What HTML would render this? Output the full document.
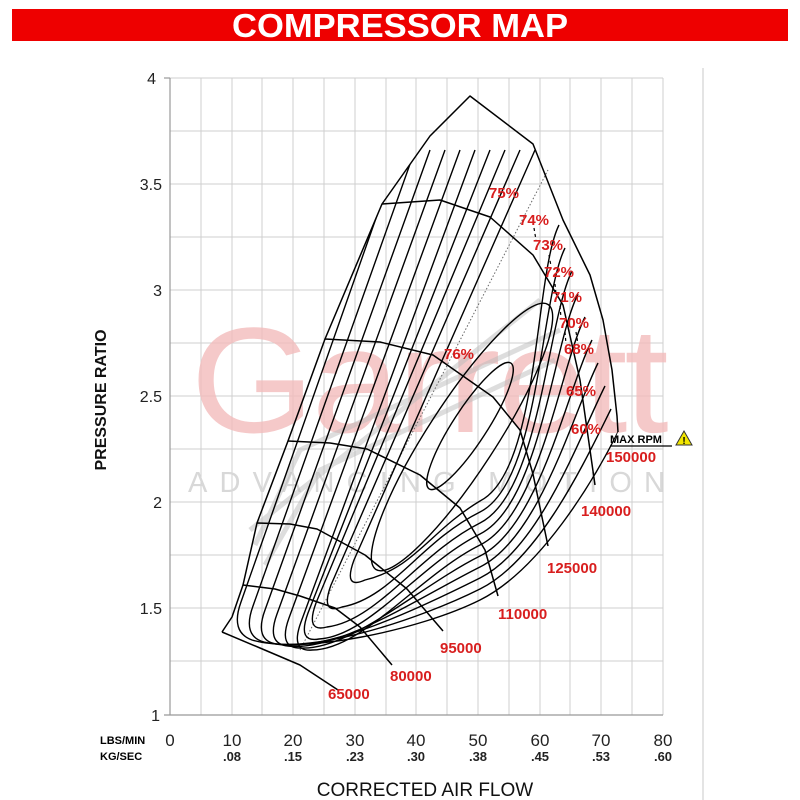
<!DOCTYPE html>
<html><head><meta charset="utf-8"><style>
html,body{margin:0;padding:0;background:#fff;width:800px;height:800px;overflow:hidden}
svg{display:block}
text{font-family:"Liberation Sans",sans-serif}
</style></head><body>
<svg width="800" height="800" viewBox="0 0 800 800" xmlns="http://www.w3.org/2000/svg">
<defs>
<clipPath id="map"><polygon points="223,631 243,585 257,523 288,441 325,339 382,204 430,136 470,96 533,144 563,220 603,320 617,416 618,432 595,485 548,546 498,596 443,631 392,665 338,690 300,672 260,652"/></clipPath>
</defs>
<rect x="12" y="9" width="776" height="32" fill="#ee0000"/>
<text x="232" y="37" font-size="33" font-weight="bold" fill="#fff" textLength="336" lengthAdjust="spacingAndGlyphs">COMPRESSOR MAP</text>
<line x1="703" y1="68" x2="703" y2="800" stroke="#e4e4e4" stroke-width="2"/>
<g stroke="#cfcfcf" stroke-width="1">
<line x1="201" y1="78" x2="201" y2="715"/><line x1="232" y1="78" x2="232" y2="715"/><line x1="262" y1="78" x2="262" y2="715"/><line x1="293" y1="78" x2="293" y2="715"/><line x1="324" y1="78" x2="324" y2="715"/><line x1="355" y1="78" x2="355" y2="715"/><line x1="386" y1="78" x2="386" y2="715"/><line x1="416" y1="78" x2="416" y2="715"/><line x1="447" y1="78" x2="447" y2="715"/><line x1="478" y1="78" x2="478" y2="715"/><line x1="509" y1="78" x2="509" y2="715"/><line x1="540" y1="78" x2="540" y2="715"/><line x1="570" y1="78" x2="570" y2="715"/><line x1="601" y1="78" x2="601" y2="715"/><line x1="632" y1="78" x2="632" y2="715"/><line x1="663" y1="78" x2="663" y2="715"/>
<line x1="170" y1="78" x2="663" y2="78"/><line x1="170" y1="131" x2="663" y2="131"/><line x1="170" y1="184" x2="663" y2="184"/><line x1="170" y1="237" x2="663" y2="237"/><line x1="170" y1="290" x2="663" y2="290"/><line x1="170" y1="343" x2="663" y2="343"/><line x1="170" y1="396" x2="663" y2="396"/><line x1="170" y1="449" x2="663" y2="449"/><line x1="170" y1="502" x2="663" y2="502"/><line x1="170" y1="555" x2="663" y2="555"/><line x1="170" y1="608" x2="663" y2="608"/><line x1="170" y1="661" x2="663" y2="661"/>
</g>
<g stroke="#999" stroke-width="1.2">
<line x1="170" y1="78" x2="170" y2="715"/><line x1="164" y1="715" x2="663" y2="715"/>
<line x1="164" y1="78" x2="170" y2="78"/>
</g>
<text x="428" y="432" text-anchor="middle" font-size="150" fill="#f3bcbc" opacity="0.8" letter-spacing="-3" textLength="475" lengthAdjust="spacingAndGlyphs">Garrett</text>
<text x="188" y="492" font-size="29" fill="#d8d8d8" textLength="477" lengthAdjust="spacing">ADVANCING MOTION</text>
<g fill="none" stroke="#bdbdbd" stroke-width="5" opacity="0.5">
<polyline points="255,545 300,450 560,330"/><polyline points="265,565 320,470 555,360"/><polyline points="250,530 540,300"/>
</g>
<line x1="300" y1="650" x2="548" y2="170" stroke="#666" stroke-width="1" stroke-dasharray="1.5,2"/>
<g clip-path="url(#map)" fill="none" stroke="#000" stroke-width="1.4" stroke-linejoin="round">
<path d="M400,150 L241,602 Q230,632 252,640 C302,655 420,630 480,600 C540,570 593,482 618,432"/>
<path d="M415,150 L253,606 Q242,636 264,642 C314,654 420,619 480,589 C540,559 586,459 611,409"/>
<path d="M430,150 L265,610 Q254,640 276,644 C326,653 420,608 480,578 C540,548 580,436 605,386"/>
<path d="M445,150 L277,614 Q266,644 288,646 C338,652 420,597 480,567 C540,537 573,413 598,363"/>
<path d="M460,150 L289,618 Q278,648 300,648 C350,651 420,586 480,556 C540,526 567,390 592,340"/>
<path d="M475,150 L301,622 Q290,652 312,650 C362,650 420,575 480,545 C540,515 560,367 585,317"/>
<path d="M490,150 L308,613 Q297,643 319,639 C369,636 420,564 480,534 C540,504 553,344 578,294"/>
<path d="M505,150 L316,603 Q305,633 327,627 C377,621 420,553 480,523 C540,493 547,321 572,271"/>
<path d="M520,150 L331,585 Q320,615 342,607 C392,598 420,542 480,512 C540,482 540,298 565,248"/>
<path d="M535,150 L354,560 Q343,590 365,580 C415,568 430,531 480,501 C540,471 534,275 559,225"/>
<ellipse cx="462" cy="437" rx="158" ry="34" transform="rotate(-57 462 437)"/>
<ellipse cx="470" cy="426" rx="75" ry="17" transform="rotate(-57 470 426)"/>
</g>
<g stroke="#000" stroke-width="1.2" stroke-dasharray="3,3">
<line x1="534" y1="228" x2="536" y2="240"/><line x1="549" y1="255" x2="551" y2="266"/><line x1="555" y1="284" x2="556" y2="294"/><line x1="560" y1="306" x2="561" y2="318"/><line x1="565" y1="332" x2="566" y2="344"/><line x1="576" y1="332" x2="578" y2="344"/>
</g>
<g fill="none" stroke="#000" stroke-width="1.5" stroke-linejoin="round">
<polyline points="222,632 232,617 243,585 257,523 288,441 325,339 382,204 430,136 470,96 533,144 563,220 590,275 603,320 612,370 617,416 618,432"/>
<polyline points="382,204 440,200 490,217 533,255 563,305 580,380 595,485"/>
<polyline points="325,339 380,342 433,355 493,397 520,430 533,474 548,546"/>
<polyline points="288,441 330,443 367,449 420,475 460,508 485,550 498,596"/>
<polyline points="257,523 290,524 317,529 365,555 407,589 443,631"/>
<polyline points="243,585 275,589 300,596 335,608 360,627 392,665"/>
<polyline points="222,632 260,648 300,665 338,690"/>
</g>
<g fill="#d81e1e" font-weight="bold" font-size="15">
<text x="489" y="198">75%</text><text x="519" y="225">74%</text><text x="533" y="250">73%</text><text x="544" y="277">72%</text><text x="552" y="302">71%</text><text x="559" y="328">70%</text><text x="564" y="354">68%</text><text x="566" y="396">65%</text><text x="571" y="434">60%</text><text x="444" y="359">76%</text>
<text x="606" y="462">150000</text><text x="581" y="516">140000</text><text x="547" y="573">125000</text><text x="498" y="619">110000</text><text x="440" y="653">95000</text><text x="390" y="681">80000</text><text x="328" y="699">65000</text>
</g>
<text x="610" y="443" font-size="11" font-weight="bold" fill="#000">MAX RPM</text>
<line x1="610" y1="446" x2="672" y2="446" stroke="#000" stroke-width="1.2"/>
<polygon points="684,431 692,445 676,445" fill="#f2e600" stroke="#333" stroke-width="1"/>
<text x="684" y="444" font-size="10" font-weight="bold" text-anchor="middle">!</text>
<g font-size="16" fill="#222" text-anchor="end">
<text x="156" y="84">4</text><text x="162" y="190">3.5</text><text x="162" y="296">3</text><text x="162" y="402">2.5</text><text x="162" y="508">2</text><text x="162" y="614">1.5</text><text x="160" y="721">1</text>
</g>
<text transform="translate(106,400) rotate(-90)" text-anchor="middle" font-size="16" font-weight="bold" fill="#111">PRESSURE RATIO</text>
<text x="100" y="744" font-size="11" font-weight="bold">LBS/MIN</text>
<text x="100" y="760" font-size="11" font-weight="bold">KG/SEC</text>
<g font-size="17" fill="#222" text-anchor="middle">
<text x="170" y="746">0</text><text x="232" y="746">10</text><text x="293" y="746">20</text><text x="355" y="746">30</text><text x="416" y="746">40</text><text x="478" y="746">50</text><text x="540" y="746">60</text><text x="601" y="746">70</text><text x="663" y="746">80</text>
</g>
<g font-size="13" font-weight="bold" fill="#222" text-anchor="middle">
<text x="232" y="761">.08</text><text x="293" y="761">.15</text><text x="355" y="761">.23</text><text x="416" y="761">.30</text><text x="478" y="761">.38</text><text x="540" y="761">.45</text><text x="601" y="761">.53</text><text x="663" y="761">.60</text>
</g>
<text x="425" y="796" text-anchor="middle" font-size="19" fill="#111">CORRECTED AIR FLOW</text>
</svg>
</body></html>
